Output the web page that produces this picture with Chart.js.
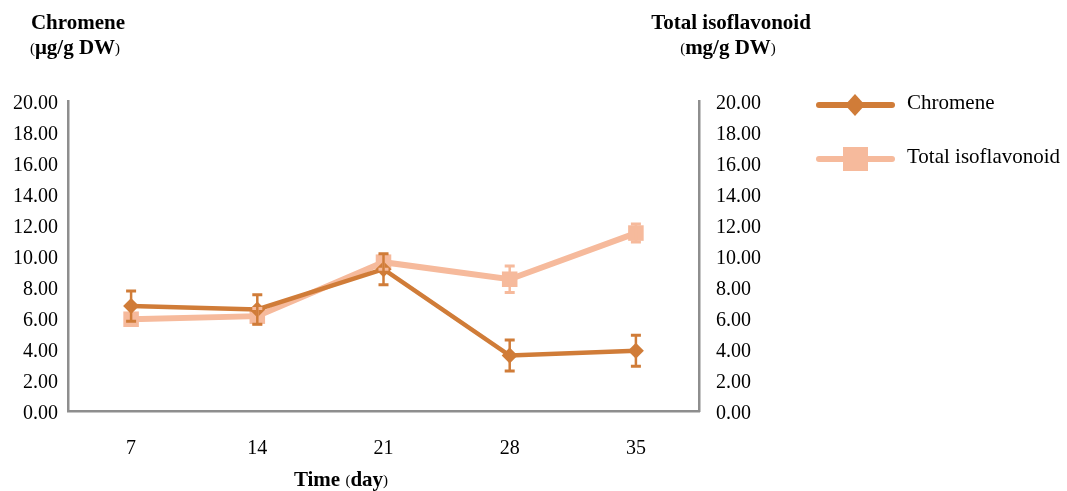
<!DOCTYPE html>
<html>
<head>
<meta charset="utf-8">
<script src="https://cdn.jsdelivr.net/npm/chart.js@4.4.1/dist/chart.umd.min.js"></script>
<style>
  html, body { margin: 0; padding: 0; background: #ffffff; }
  #wrap { width: 1067px; height: 491px; }
</style>
</head>
<body>
<div id="wrap"><canvas id="c" width="1067" height="491"></canvas></div>
<script>
// Sampling days
const days = ['7', '14', '21', '28', '35'];
// Chromene content (µg/g DW) with standard error
const chromene = [6.77, 6.55, 9.15, 3.58, 3.88];
const chromeneErr = [0.98, 0.95, 1.0, 1.0, 1.0];
// Total isoflavonoid content (mg/g DW) with standard error
const isoflavonoid = [5.92, 6.12, 9.6, 8.5, 11.48];
const isoflavonoidErr = [0.3, 0.5, 0.45, 0.85, 0.58];
// Shared axis range
const yMin = 0, yMax = 20, yStep = 2;

const FONT = '"Liberation Serif", "Times New Roman", serif';
const C_CHROM = '#D07C38';
const C_ISO = '#F6BA9C';
const AXIS_GREY = '#8E8E8E';

// Draws a line of text made of runs with different weights, centred on cx
function drawRuns(ctx, runs, cx, cy) {
  let total = 0;
  runs.forEach(r => { ctx.font = r.font; r.w = ctx.measureText(r.text).width; total += r.w; });
  let x = cx - total / 2;
  ctx.textAlign = 'left';
  ctx.textBaseline = 'middle';
  ctx.fillStyle = '#000';
  runs.forEach(r => { ctx.font = r.font; ctx.fillText(r.text, x, cy); x += r.w; });
}

const bold = `bold 21px ${FONT}`;
const small = `15px ${FONT}`;

const decorations = {
  id: 'decorations',
  afterDatasetsDraw(chart) {
    const ctx = chart.ctx;
    const xs = chart.scales.x;
    const sets = [
      { vals: isoflavonoid, errs: isoflavonoidErr, scale: chart.scales.y2, color: C_ISO },
      { vals: chromene, errs: chromeneErr, scale: chart.scales.y, color: C_CHROM }
    ];
    ctx.save();
    sets.forEach(s => {
      ctx.strokeStyle = s.color;
      s.vals.forEach((v, i) => {
        const x = xs.getPixelForValue(i);
        const yt = s.scale.getPixelForValue(v + s.errs[i]);
        const yb = s.scale.getPixelForValue(v - s.errs[i]);
        ctx.lineWidth = 2.5;
        ctx.beginPath();
        ctx.moveTo(x, yt); ctx.lineTo(x, yb);
        ctx.stroke();
        ctx.lineWidth = 3;
        ctx.beginPath();
        ctx.moveTo(x - 5, yt); ctx.lineTo(x + 5, yt);
        ctx.moveTo(x - 5, yb); ctx.lineTo(x + 5, yb);
        ctx.stroke();
      });
    });
    ctx.restore();
  },
  afterDraw(chart) {
    const ctx = chart.ctx;
    ctx.save();
    // axis titles
    drawRuns(ctx, [{ text: 'Chromene', font: bold }], 78, 24);
    drawRuns(ctx, [{ text: '(', font: small }, { text: 'μg/g DW', font: bold }, { text: ')', font: small }], 75, 49);
    drawRuns(ctx, [{ text: 'Total isoflavonoid', font: bold }], 731, 24);
    drawRuns(ctx, [{ text: '(', font: small }, { text: 'mg/g DW', font: bold }, { text: ')', font: small }], 728, 49);
    drawRuns(ctx, [{ text: 'Time ', font: bold }, { text: '(', font: small }, { text: 'day', font: bold }, { text: ')', font: small }], 341, 481);

    // legend
    const rows = [
      { label: 'Chromene', color: C_CHROM, y: 105, marker: 'diamond' },
      { label: 'Total isoflavonoid', color: C_ISO, y: 159, marker: 'square' }
    ];
    rows.forEach(r => {
      ctx.strokeStyle = r.color;
      ctx.fillStyle = r.color;
      ctx.lineWidth = 6;
      ctx.lineCap = 'round';
      ctx.beginPath();
      ctx.moveTo(819, r.y); ctx.lineTo(892, r.y);
      ctx.stroke();
      ctx.beginPath();
      if (r.marker === 'diamond') {
        ctx.moveTo(855, r.y - 11); ctx.lineTo(865, r.y); ctx.lineTo(855, r.y + 11); ctx.lineTo(845, r.y);
        ctx.closePath();
      } else {
        ctx.rect(843, r.y - 12, 25, 24);
      }
      ctx.fill();
      ctx.fillStyle = '#000';
      ctx.font = `21px ${FONT}`;
      ctx.textAlign = 'left';
      ctx.textBaseline = 'middle';
      ctx.fillText(r.label, 907, r.y - 2);
    });
    ctx.restore();
  }
};

const tickFmt = v => Number(v).toFixed(2);

new Chart(document.getElementById('c'), {
  type: 'line',
  data: {
    labels: days,
    datasets: [
      {
        label: 'Chromene',
        data: chromene,
        yAxisID: 'y',
        borderColor: C_CHROM,
        backgroundColor: C_CHROM,
        borderWidth: 4.5,
        pointStyle: 'rectRot',
        pointRadius: 8,
        pointBorderWidth: 0,
        tension: 0
      },
      {
        label: 'Total isoflavonoid',
        data: isoflavonoid,
        yAxisID: 'y2',
        borderColor: C_ISO,
        backgroundColor: C_ISO,
        borderWidth: 6,
        pointStyle: 'rect',
        pointRadius: 11,
        pointBorderWidth: 0,
        tension: 0
      }
    ]
  },
  options: {
    responsive: false,
    animation: false,
    devicePixelRatio: 1,
    layout: { padding: { top: 101, left: 0, right: 0, bottom: 0 } },
    plugins: { legend: { display: false }, tooltip: { enabled: false } },
    scales: {
      x: {
        offset: true,
        grid: { display: false, drawTicks: false },
        border: { display: true, color: AXIS_GREY, width: 2.5 },
        ticks: { color: '#000', padding: 26, font: { family: FONT, size: 20 } },
        afterFit: s => { s.height = 80; }
      },
      y: {
        position: 'left',
        min: yMin, max: yMax,
        grid: { display: false, drawTicks: false },
        border: { display: true, color: AXIS_GREY, width: 2.5 },
        ticks: { stepSize: yStep, color: '#000', padding: 10, labelOffset: 3, callback: tickFmt, font: { family: FONT, size: 20 } },
        afterFit: s => { s.width = 68; }
      },
      y2: {
        position: 'right',
        min: yMin, max: yMax,
        grid: { display: false, drawTicks: false },
        border: { display: true, color: AXIS_GREY, width: 2.5 },
        ticks: { stepSize: yStep, color: '#000', padding: 17, labelOffset: 3, callback: tickFmt, font: { family: FONT, size: 20 } },
        afterFit: s => { s.width = 368; }
      }
    }
  },
  plugins: [decorations]
});
</script>
</body>
</html>
